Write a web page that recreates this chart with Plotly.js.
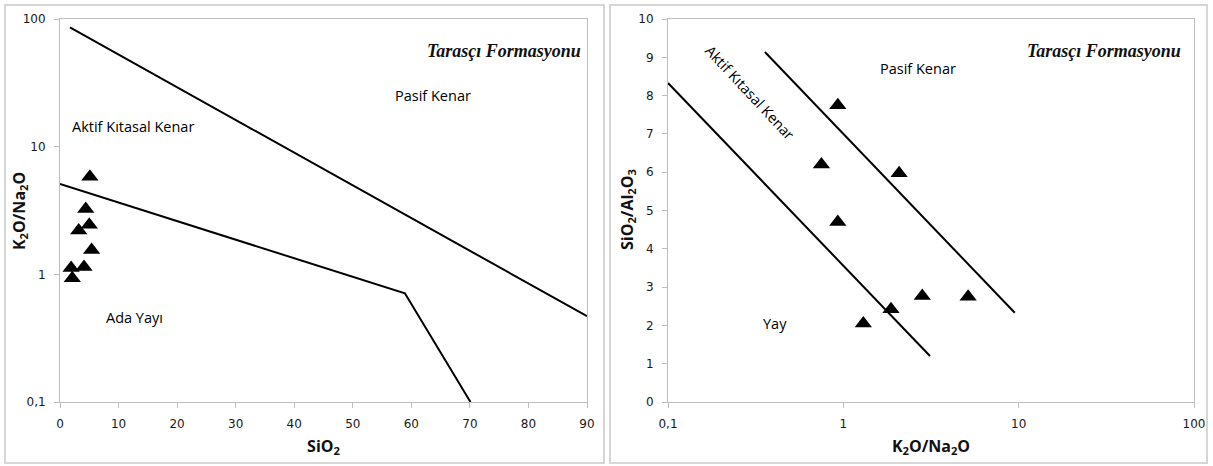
<!DOCTYPE html>
<html>
<head>
<meta charset="utf-8">
<script src="https://cdn.plot.ly/plotly-3.0.1.min.js"></script>
<style>html,body{margin:0;padding:0;background:#fff;}#chart{width:1213px;height:466px;}</style>
</head>
<body>
<div id="chart"></div>
<script>
// Left diagram: SiO2 vs K2O/Na2O (log)
const leftSiO2 = [5.1, 4.4, 3.2, 5.0, 5.4, 4.1, 1.9, 2.1];
const leftK2ONa2O = [5.8, 3.25, 2.2, 2.45, 1.55, 1.14, 1.12, 0.93];
const leftUpperLineX = [1.7, 90];
const leftUpperLineY = [86, 0.47];
const leftLowerLineX = [0, 58.9, 70.1];
const leftLowerLineY = [5.1, 0.71, 0.1];
const leftXTicks = [0, 10, 20, 30, 40, 50, 60, 70, 80, 90];
const leftYTickVals = [0.1, 1, 10, 100];
const leftYTickText = ["0,1", "1", "10", "100"];

// Right diagram: K2O/Na2O (log) vs SiO2/Al2O3
const rightK2ONa2O = [0.93, 0.75, 0.93, 2.08, 1.3, 1.87, 2.82, 5.15];
const rightSiO2Al2O3 = [7.75, 6.2, 4.7, 5.97, 2.05, 2.42, 2.77, 2.75];
const rightLine1X = [0.1, 3.12];
const rightLine1Y = [8.33, 1.2];
const rightLine2X = [0.357, 9.5];
const rightLine2Y = [9.14, 2.33];
const rightXTickVals = [0.1, 1, 10, 100];
const rightXTickText = ["0,1", "1", "10", "100"];
const rightYTicks = [0, 1, 2, 3, 4, 5, 6, 7, 8, 9, 10];

const W = 1213, H = 466;
const px = v => v / W;
const py = v => (H - v) / H;

const lineStyle = {color: "#000", width: 2};
const markerStyle = {symbol: "triangle-up", size: 15, color: "#000"};

const traces = [
  {x: leftUpperLineX, y: leftUpperLineY, mode: "lines", line: lineStyle, xaxis: "x", yaxis: "y", hoverinfo: "skip"},
  {x: leftLowerLineX, y: leftLowerLineY, mode: "lines", line: lineStyle, xaxis: "x", yaxis: "y", hoverinfo: "skip"},
  {x: leftSiO2, y: leftK2ONa2O, mode: "markers", marker: markerStyle, xaxis: "x", yaxis: "y"},
  {x: rightLine1X, y: rightLine1Y, mode: "lines", line: lineStyle, xaxis: "x2", yaxis: "y2", hoverinfo: "skip"},
  {x: rightLine2X, y: rightLine2Y, mode: "lines", line: lineStyle, xaxis: "x2", yaxis: "y2", hoverinfo: "skip"},
  {x: rightK2ONa2O, y: rightSiO2Al2O3, mode: "markers", marker: markerStyle, xaxis: "x2", yaxis: "y2"}
];

const tickFont = {family: "DejaVu Sans", size: 12, color: "#1a1a1a"};
const titleFont = {family: "Open Sans", size: 16, color: "#111", weight: "bold"};
const axisCommon = {
  showgrid: false, zeroline: false, showline: true, mirror: true,
  linecolor: "#bdbdbd", linewidth: 1, ticks: "outside", ticklen: 5,
  tickcolor: "#bdbdbd", tickfont: tickFont, ticklabelstandoff: 6
};

const annFont = {family: "Open Sans", size: 14.5, color: "#000"};
const tarFont = {family: "Liberation Serif", size: 18, color: "#111", style: "italic", weight: "bold"};

const layout = {
  width: W, height: H,
  margin: {l: 0, r: 0, t: 0, b: 0},
  paper_bgcolor: "#fff", plot_bgcolor: "#fff",
  showlegend: false,
  xaxis: Object.assign({}, axisCommon, {
    domain: [px(60), px(587)], range: [0, 90], tickvals: leftXTicks, anchor: "y",
    title: {text: "SiO<sub>2</sub>", font: titleFont, standoff: 10}
  }),
  yaxis: Object.assign({}, axisCommon, {
    domain: [py(402), py(19)], type: "log", range: [-1, 2],
    tickvals: leftYTickVals, ticktext: leftYTickText, anchor: "x"
  }),
  xaxis2: Object.assign({}, axisCommon, {
    domain: [px(668), px(1194)], type: "log", range: [-1, 2],
    tickvals: rightXTickVals, ticktext: rightXTickText, anchor: "y2",
    title: {text: "K<sub>2</sub>O/Na<sub>2</sub>O", font: titleFont, standoff: 10}
  }),
  yaxis2: Object.assign({}, axisCommon, {
    domain: [py(402), py(19)], range: [0, 10], tickvals: rightYTicks, anchor: "x2"
  }),
  shapes: [
    {type: "rect", xref: "paper", yref: "paper", x0: px(5), x1: px(604), y0: py(463), y1: py(5), line: {color: "#d6d6d6", width: 2}},
    {type: "rect", xref: "paper", yref: "paper", x0: px(610), x1: px(1207), y0: py(463), y1: py(5), line: {color: "#d6d6d6", width: 2}}
  ],
  annotations: [
    {xref: "paper", yref: "paper", x: px(19), y: py(211), xanchor: "center", yanchor: "middle", text: "K<sub>2</sub>O/Na<sub>2</sub>O", textangle: -90, showarrow: false, font: titleFont},
    {xref: "paper", yref: "paper", x: px(627), y: py(210), xanchor: "center", yanchor: "middle", text: "SiO<sub>2</sub>/Al<sub>2</sub>O<sub>3</sub>", textangle: -90, showarrow: false, font: titleFont},
    {xref: "x", yref: "y", x: 12.4, y: Math.log10(14.5), xanchor: "center", text: "Aktif Kıtasal Kenar", showarrow: false, font: annFont},
    {xref: "x", yref: "y", x: 63.7, y: Math.log10(25), xanchor: "center", text: "Pasif Kenar", showarrow: false, font: annFont},
    {xref: "x", yref: "y", x: 12.8, y: Math.log10(0.46), xanchor: "center", text: "Ada Yayı", showarrow: false, font: annFont},
    {xref: "paper", yref: "paper", x: px(583), y: py(39), xanchor: "right", text: "Tarasçı Formasyonu", showarrow: false, font: tarFont},
    {xref: "x2", yref: "y2", x: Math.log10(0.294), y: 8.09, xanchor: "center", text: "Aktif Kıtasal Kenar", showarrow: false, font: annFont, textangle: 47},
    {xref: "x2", yref: "y2", x: Math.log10(2.67), y: 8.72, xanchor: "center", text: "Pasif Kenar", showarrow: false, font: annFont},
    {xref: "x2", yref: "y2", x: Math.log10(0.407), y: 2.05, xanchor: "center", text: "Yay", showarrow: false, font: annFont},
    {xref: "paper", yref: "paper", x: px(1183), y: py(39), xanchor: "right", text: "Tarasçı Formasyonu", showarrow: false, font: tarFont}
  ]
};

Plotly.newPlot("chart", traces, layout, {displayModeBar: false, staticPlot: true});
</script>
</body>
</html>
